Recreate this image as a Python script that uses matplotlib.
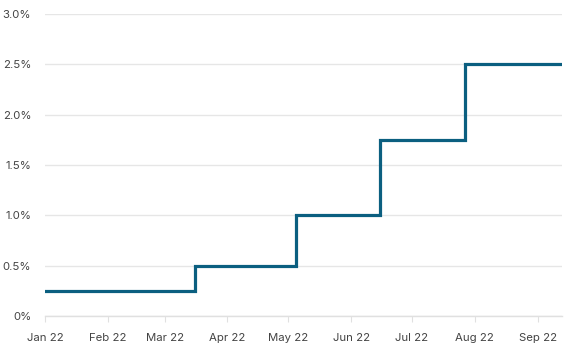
import matplotlib
matplotlib.use("Agg")
import matplotlib.pyplot as plt
import matplotlib.dates as mdates
import matplotlib.ticker as mticker
import pandas as pd

# fed funds target (upper bound), 2022
dates = ["2022-01-01", "2022-03-16", "2022-05-05", "2022-06-15", "2022-07-27", "2022-09-13"]
rates = [0.25, 0.50, 1.00, 1.75, 2.50, 2.50]

x = pd.to_datetime(dates)

plt.rcParams["font.family"] = ["Inter", "DejaVu Sans"]

fig = plt.figure(figsize=(5.72, 3.53), dpi=100)
ax = fig.add_axes([0.0787, 0.1048, 0.9038, 0.8555])

ax.step(x, rates, where="post", color="#0b5f80", lw=2.3, solid_joinstyle="miter")

ax.set_xlim(pd.Timestamp("2022-01-01"), pd.Timestamp("2022-09-13"))
ax.set_ylim(0, 3.0)
ax.yaxis.set_major_locator(mticker.MultipleLocator(0.5))
ax.yaxis.set_major_formatter(mticker.FuncFormatter(lambda v, p: "0%" if v == 0 else f"{v:.1f}%"))
ax.xaxis.set_major_locator(mdates.MonthLocator())
ax.xaxis.set_major_formatter(mdates.DateFormatter("%b %y"))

ax.grid(axis="y", color="#e6e6e6", lw=1)
ax.set_axisbelow(True)
for s in ["top", "right", "left"]:
    ax.spines[s].set_visible(False)
ax.spines["bottom"].set_color("#e0e0e0")
ax.spines["bottom"].set_linewidth(1)
ax.tick_params(axis="y", length=0, pad=10, labelsize=8.2, labelcolor="#444444")
ax.tick_params(axis="x", length=4, color="#e0e0e0", pad=8, labelsize=8.2, labelcolor="#444444")

fig.savefig("out.png", dpi=100)
